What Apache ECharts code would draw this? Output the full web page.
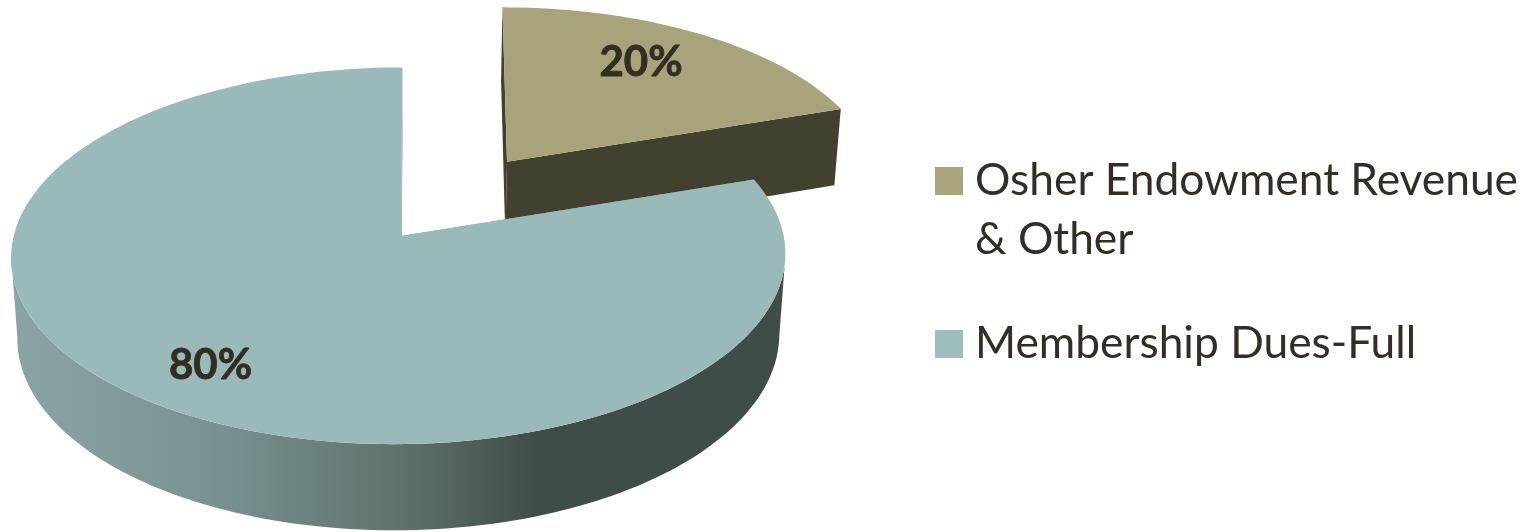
<!DOCTYPE html>
<html>
<head>
<meta charset="utf-8">
<style>html,body{margin:0;padding:0;background:#fff}#c{width:1532px;height:532px}</style>
<script src="https://cdn.jsdelivr.net/npm/echarts@6/dist/echarts.min.js"></script>
</head>
<body>
<div id="c"></div>
<script>
// Data
const categories = ['Osher Endowment Revenue & Other', 'Membership Dues-Full'];
const shares = [20, 80];
const labels = ['20%', '80%'];

// Slice styling
const topColors = ['#a8a37b', '#9abab9'];
const swatchColors = ['#a8a47c', '#9dbdbb'];
const sideColors = ['#424130', '#7f9c9c'];
const explodeOffsets = [[0.2835, -0.416], [0, 0]];
const rimShift = [[0.006, -0.016], [-0.006, -0.004]];
const rimScale = [0.985, 1];
const labelRadius = [0.74, 0.79];
const labelTurn = [-3.3, -1];

// Camera for the tilted pie
const CX = 401, CY = 236, RX = 385, RY = 186.3, SKEW = -4, PERSP = 0.109, DEPTH = 81.5, DEPTH_W = 0.016;
const SILHOUETTE = Math.acos(-PERSP) * 180 / Math.PI;

function project(u, v, z) {
  const w = 1 - PERSP * v + DEPTH_W * z;
  return [CX + (RX * u + SKEW * v) / w, CY + (RY * v + DEPTH * z) / w];
}
function rad(d) { return d * Math.PI / 180; }
function rim(idx, deg, z) {
  const o = explodeOffsets[idx], s = rimShift[idx], k = rimScale[idx];
  return project(o[0] + s[0] + k * Math.sin(rad(deg)), o[1] + s[1] - k * Math.cos(rad(deg)), z);
}
function arc(idx, a, b, z) {
  const pts = [];
  const n = Math.max(2, Math.ceil(Math.abs(b - a) / 1.5));
  for (let i = 0; i <= n; i++) pts.push(rim(idx, a + (b - a) * i / n, z));
  return pts;
}
const total = shares.reduce((s, v) => s + v, 0);
function sliceRange(idx) {
  let a = 0;
  for (let i = 0; i < idx; i++) a += shares[i] / total * 360;
  return [a, a + shares[idx] / total * 360];
}
const wallGradient = () => new echarts.graphic.LinearGradient(18, 0, 780, 0, [
  { offset: 0, color: '#8aa4a4' },
  { offset: 0.25, color: '#7a9392' },
  { offset: 0.5, color: '#5f7270' },
  { offset: 0.68, color: '#3f4d4a' },
  { offset: 1, color: '#3f4d4a' }
], true);

function renderSlice(idx) {
  return function (params, api) {
    const r = sliceRange(idx);
    const o = explodeOffsets[idx];
    const apexTop = project(o[0], o[1], 0);
    const apexBase = project(o[0], o[1], 1);
    const side = sideColors[idx];
    const kids = [];
    // start and end cut faces
    kids.push({ type: 'polygon', shape: { points: [apexTop, rim(idx, r[0], 0), rim(idx, r[0], 1), apexBase] },
      style: { fill: side } });
    kids.push({ type: 'polygon', shape: { points: [apexTop, rim(idx, r[1] % 360, 0), rim(idx, r[1] % 360, 1), apexBase] },
      style: { fill: side } });
    // visible outer wall, from silhouette to silhouette
    const a = Math.max(r[0], SILHOUETTE), b = Math.min(r[1], 360 - SILHOUETTE);
    if (b > a) {
      const top = arc(idx, a, b, 0), base = arc(idx, a, b, 1).reverse();
      kids.push({ type: 'polygon', shape: { points: top.concat(base) },
        style: { fill: idx === 1 ? wallGradient() : side } });
    }
    // top face
    kids.push({ type: 'polygon', shape: { points: [apexTop].concat(arc(idx, r[0], r[1], 0)) },
      style: { fill: topColors[idx] } });
    // value label
    const mid = (r[0] + r[1]) / 2 + labelTurn[idx];
    const lp = project(o[0] + labelRadius[idx] * Math.sin(rad(mid)), o[1] - labelRadius[idx] * Math.cos(rad(mid)), 0);
    kids.push({ type: 'text', x: lp[0], y: lp[1], z2: 10,
      style: { text: labels[idx], fill: '#332e23', stroke: '#332e23', lineWidth: 0.8, font: 'bold 42px Lato', align: 'center', verticalAlign: 'middle' } });
    return { type: 'group', children: kids };
  };
}

const chart = echarts.init(document.getElementById('c'), null, { renderer: 'canvas' });
chart.setOption({
  animation: false,
  backgroundColor: '#ffffff',
  legend: {
    orient: 'vertical', left: 930, top: 87.5, itemWidth: 28, itemHeight: 28, itemGap: 45,
    icon: 'rect', selectedMode: false,
    data: categories,
    formatter: function (n) { return n.indexOf(' & ') >= 0 ? '\n' + n.replace(' & ', '\n& ') : n; },
    textStyle: { fontFamily: 'Lato', fontSize: 44.3, lineHeight: 59, color: '#332e23', padding: [0, 0, 0, 7] }
  },
  series: categories.map((name, i) => ({
    type: 'custom', name: name, coordinateSystem: 'none', silent: true, z: 2 + i,
    itemStyle: { color: swatchColors[i] },
    data: [shares[i]],
    renderItem: renderSlice(i)
  }))
});
</script>
</body>
</html>
